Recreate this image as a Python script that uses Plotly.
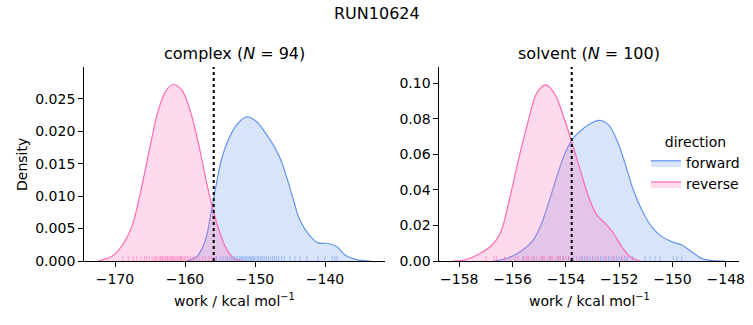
import plotly.graph_objects as go

# ---------------- data ----------------
suptitle = "RUN10624"
panel_titles = ["complex (<i>N</i> = 94)", "solvent (<i>N</i> = 100)"]
directions = ["forward", "reverse"]

# complex KDE curves
cx_fwd_x = [-159.8, -158.3, -157.1, -156.2, -155.5, -154.8, -153.8, -152.6, -151.2, -149.8,
            -148.3, -147.4, -146.4, -145.5, -144.5, -143.6, -142.1, -141.0, -139.5, -138.3,
            -137.1, -135.5, -133.6]
cx_fwd_y = [0.0, 0.0007, 0.0032, 0.0079, 0.0120, 0.0156, 0.0187, 0.0210, 0.0222, 0.0215,
            0.0194, 0.0179, 0.0158, 0.0130, 0.0094, 0.0063, 0.0038, 0.0028, 0.0027, 0.0022,
            0.0009, 0.0002, 0.0]
cx_rev_x = [-172.4, -170.2, -168.8, -167.6, -166.4, -165.0, -163.8, -162.6, -161.7, -160.5,
            -159.3, -158.1, -156.9, -156.0, -155.0, -154.0, -152.9, -151.8]
cx_rev_y = [0.0, 0.0009, 0.0027, 0.0053, 0.0104, 0.0176, 0.0233, 0.0264, 0.0272, 0.0264,
            0.0233, 0.0182, 0.0120, 0.0079, 0.0043, 0.0017, 0.0003, 0.0]

# solvent KDE curves
sv_fwd_x = [-156.71, -156.21, -155.71, -155.27, -154.96, -154.65, -154.34, -154.03, -153.72, -153.40,
            -153.09, -152.75, -152.40, -152.09, -151.78, -151.47, -151.15, -150.78, -150.40, -150.03,
            -149.65, -149.28, -148.90, -148.47, -148.0]
sv_fwd_y = [0.0, 0.0015, 0.0052, 0.0109, 0.0193, 0.0325, 0.0474, 0.0606, 0.0690, 0.0737,
            0.0771, 0.0790, 0.0765, 0.0681, 0.0550, 0.0400, 0.0287, 0.0193, 0.0137, 0.0109,
            0.0090, 0.0052, 0.0015, 0.0002, 0.0]
sv_rev_x = [-158.21, -157.71, -157.21, -156.77, -156.46, -156.15, -155.78, -155.40, -155.09, -154.75,
            -154.40, -154.09, -153.78, -153.46, -153.15, -152.84, -152.53, -152.21, -151.90, -151.59,
            -151.21]
sv_rev_y = [0.0, 0.0010, 0.0043, 0.0090, 0.0156, 0.0325, 0.0568, 0.0793, 0.0944, 0.0990,
            0.0934, 0.0812, 0.0671, 0.0512, 0.0362, 0.0259, 0.0212, 0.0156, 0.0080, 0.0024,
            0.0]

# rug samples
cx_fwd_rug = [-155.5, -155.0, -154.6, -154.2, -153.9, -153.6, -153.3, -153.0, -152.7, -152.5,
              -152.2, -152.0, -151.8, -151.6, -151.4, -151.2, -151.0, -150.8, -150.6, -150.4,
              -150.2, -150.0, -149.7, -149.5, -149.2, -149.0, -148.7, -148.4, -148.1, -147.8,
              -147.5, -147.2, -146.9, -146.6, -146.2, -145.8, -145.0, -144.3, -143.6, -142.6,
              -141.0, -140.0, -139.0, -138.6, -138.3]
cx_rev_rug = [-168.9, -168.1, -167.4, -166.9, -166.3, -165.8, -165.5, -165.1, -164.7, -164.4,
              -164.2, -164.0, -163.7, -163.5, -163.3, -163.2, -163.0, -162.8, -162.6, -162.5,
              -162.3, -162.1, -161.9, -161.8, -161.7, -161.5, -161.3, -161.1, -160.9, -160.7,
              -160.6, -160.5, -160.3, -160.1, -159.9, -159.6, -159.3, -159.0, -158.7, -158.3,
              -157.9, -157.5, -157.1, -156.6, -156.2, -155.6]
sv_fwd_rug = [-155.6, -155.2, -154.9, -154.6, -154.3, -154.1, -153.9, -153.7, -153.5, -153.4,
              -153.3, -153.2, -153.1, -153.0, -152.9, -152.8, -152.7, -152.6, -152.5, -152.4,
              -152.3, -152.2, -152.1, -152.0, -151.9, -151.8, -151.7, -151.5, -151.03, -150.84,
              -150.65, -150.46, -149.97, -149.83, -149.65]
sv_rev_rug = [-157.0, -156.7, -156.6, -156.3, -156.1, -155.9, -155.8, -155.6, -155.5, -155.45,
              -155.4, -155.3, -155.2, -155.1, -155.0, -154.9, -154.85, -154.8, -154.7, -154.6,
              -154.55, -154.5, -154.4, -154.3, -154.25, -154.2, -154.1, -154.0, -153.9, -153.8,
              -153.6, -153.4, -153.2, -153.0, -152.8, -152.5, -152.2, -151.9]

# free-energy estimates (dotted lines)
cx_dg = -155.9
sv_dg = -153.78

# axis ticks
cx_xticks = [-170, -160, -150, -140]
cx_yticks = [0.0, 0.005, 0.010, 0.015, 0.020, 0.025]
sv_xticks = [-158, -156, -154, -152, -150, -148]
sv_yticks = [0.0, 0.02, 0.04, 0.06, 0.08, 0.10]
xlabel = "work / kcal mol<sup>−1</sup>"
ylabel = "Density"

# ---------------- styling ----------------
FONT = "DejaVu Sans"
colors = {"forward": "#6495ED", "reverse": "#FF69B4"}
fills = {"forward": "rgba(100,149,237,0.25)", "reverse": "rgba(255,105,180,0.25)"}
rugcols = {"forward": "rgba(100,149,237,0.55)", "reverse": "rgba(255,105,180,0.55)"}

W, H = 753, 325
cx_xrange = [-174.43, -131.43]
cx_yrange = [0, 0.0299]
sv_xrange = [-158.75, -147.49]
sv_yrange = [0, 0.109]

fig = go.Figure()

panels = [
    dict(xa="x", ya="y", curves={"forward": (cx_fwd_x, cx_fwd_y), "reverse": (cx_rev_x, cx_rev_y)},
         rugs={"forward": cx_fwd_rug, "reverse": cx_rev_rug}, yr=cx_yrange, dg=cx_dg, legend=False),
    dict(xa="x2", ya="y2", curves={"forward": (sv_fwd_x, sv_fwd_y), "reverse": (sv_rev_x, sv_rev_y)},
         rugs={"forward": sv_fwd_rug, "reverse": sv_rev_rug}, yr=sv_yrange, dg=sv_dg, legend=True),
]

for p in panels:
    for d in directions:
        xs, ys = p["curves"][d]
        fig.add_trace(go.Scatter(
            x=xs, y=ys, mode="lines", line=dict(color=colors[d], width=1.2, shape="spline", smoothing=1.0),
            fill="tozeroy", fillcolor=fills[d], name=d, showlegend=p["legend"],
            xaxis=p["xa"], yaxis=p["ya"], hoverinfo="skip"))
    h = p["yr"][1] * 0.025
    for d in directions:
        rx, ry = [], []
        for v in p["rugs"][d]:
            rx += [v, v, None]
            ry += [0, h, None]
        fig.add_trace(go.Scatter(x=rx, y=ry, mode="lines", line=dict(color=rugcols[d], width=1),
                                 showlegend=False, xaxis=p["xa"], yaxis=p["ya"], hoverinfo="skip"))
    fig.add_shape(type="line", xref=p["xa"], yref=p["ya"] + " domain", x0=p["dg"], x1=p["dg"],
                  y0=0, y1=1, line=dict(color="black", width=2, dash="dot"))

xd1 = [84 / W, 385 / W]
xd2 = [439.3 / W, 739.3 / W]
yd = [1 - 261 / H, 1 - 67 / H]

axis_common = dict(showline=True, linecolor="black", linewidth=1, ticks="outside", ticklen=4.9,
                   tickwidth=1, tickcolor="black", showgrid=False, zeroline=False, automargin=False,
                   tickfont=dict(family=FONT, size=14, color="black"), mirror=False)

fig.update_layout(
    width=W, height=H, margin=dict(l=0, r=0, t=0, b=0, autoexpand=False),
    paper_bgcolor="white", plot_bgcolor="white",
    font=dict(family=FONT, color="black"),
    xaxis=dict(domain=xd1, range=cx_xrange, tickvals=cx_xticks, anchor="y", **axis_common),
    yaxis=dict(domain=yd, range=cx_yrange, tickvals=cx_yticks, tickformat=".3f", anchor="x", **axis_common),
    xaxis2=dict(domain=xd2, range=sv_xrange, tickvals=sv_xticks, anchor="y2", **axis_common),
    yaxis2=dict(domain=yd, range=sv_yrange, tickvals=sv_yticks, tickformat=".2f", anchor="x2", **axis_common),
    legend=dict(x=646 / W, y=1 - 129 / H, xanchor="left", yanchor="top",
                bgcolor="rgba(255,255,255,0)", font=dict(family=FONT, size=14, color="black"),
                title=dict(text="direction", side="top center", font=dict(family=FONT, size=14)),
                itemwidth=30, tracegroupgap=0),
    showlegend=True,
)

ann = []
ann.append(dict(text=suptitle, x=0.5, y=1 - 13 / H, xref="paper", yref="paper", showarrow=False,
                font=dict(family=FONT, size=16, color="black"), xanchor="center", yanchor="middle"))
for title, dom in zip(panel_titles, [xd1, xd2]):
    ann.append(dict(text=title, x=(dom[0] + dom[1]) / 2, y=1 - 54 / H, xref="paper", yref="paper",
                    showarrow=False, font=dict(family=FONT, size=16, color="black"),
                    xanchor="center", yanchor="middle"))
    ann.append(dict(text=xlabel, x=(dom[0] + dom[1]) / 2, y=1 - 300 / H, xref="paper", yref="paper",
                    showarrow=False, font=dict(family=FONT, size=14, color="black"),
                    xanchor="center", yanchor="middle"))
ann.append(dict(text=ylabel, x=22 / W, y=1 - 165 / H, xref="paper", yref="paper", showarrow=False,
                textangle=-90, font=dict(family=FONT, size=14, color="black"),
                xanchor="center", yanchor="middle"))
fig.update_layout(annotations=ann)

fig.write_html("out.html")
